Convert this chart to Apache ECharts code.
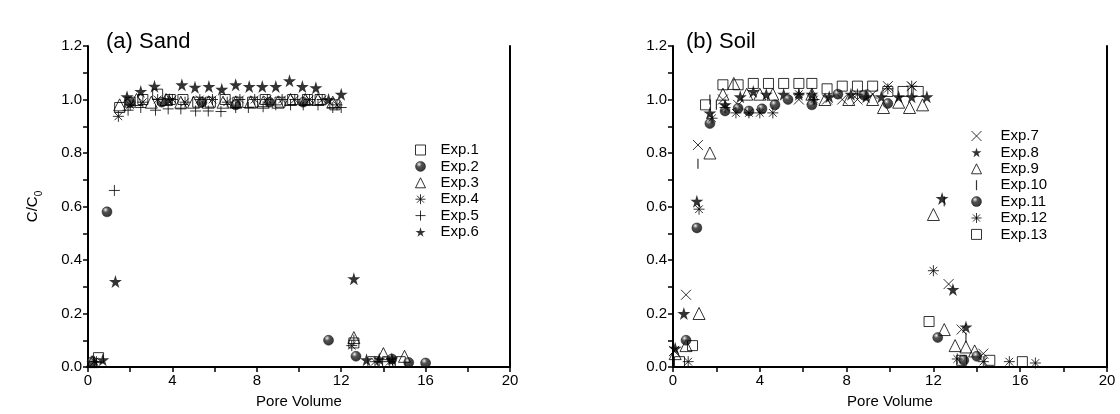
<!DOCTYPE html>
<html>
<head>
<meta charset="utf-8">
<script src="https://cdn.jsdelivr.net/npm/echarts@6/dist/echarts.min.js"></script>
<style>
  html, body { margin: 0; padding: 0; background: #fff; }
  #chart { width: 1120px; height: 414px; }
</style>
</head>
<body>
<div id="chart"></div>
<script>
// pore volume / C/C0 pairs
const exp1 = [[0.5,0.035],[1.5,0.97],[2.0,0.99],[2.6,1.0],[3.3,1.02],[3.9,1.0],[4.5,1.0],[5.2,0.99],[5.8,0.99],[6.5,1.0],[7.1,0.99],[7.8,0.99],[8.4,1.0],[9.1,0.99],[9.7,1.0],[10.4,1.0],[11.0,1.0],[11.7,0.98],[12.6,0.09],[13.5,0.02],[14.2,0.02],[14.8,0.02]];
const exp2 = [[0.2,0.02],[0.9,0.58],[2.0,0.99],[3.5,0.99],[5.4,0.99],[7.0,0.98],[8.6,0.99],[10.2,0.99],[11.4,0.10],[12.7,0.04],[14.4,0.03],[15.2,0.017],[16.0,0.015]];
const exp3 = [[0.2,0.02],[1.5,0.98],[2.3,1.0],[3.0,0.99],[3.7,1.0],[4.4,0.99],[5.0,0.99],[5.7,0.99],[6.4,0.99],[7.0,0.99],[7.7,0.99],[8.3,0.99],[9.0,0.99],[9.6,1.0],[10.3,1.0],[10.9,1.0],[11.6,0.99],[12.6,0.11],[14.0,0.05],[15.0,0.04]];
const exp4 = [[0.3,0.02],[1.44,0.937],[2.0,0.98],[2.6,0.99],[3.3,1.0],[4.0,1.0],[4.6,0.99],[5.3,1.0],[5.9,1.0],[6.6,0.99],[7.2,1.0],[7.9,1.0],[8.5,1.0],[9.2,1.0],[9.8,1.0],[10.5,1.0],[11.1,1.0],[11.8,0.98],[12.5,0.08],[13.6,0.02],[14.3,0.02]];
const exp5 = [[0.4,0.02],[1.25,0.66],[1.9,0.96],[2.5,0.97],[3.2,0.96],[3.8,0.965],[4.4,0.965],[5.1,0.957],[5.7,0.957],[6.3,0.955],[7.0,0.97],[7.6,0.97],[8.3,0.973],[8.9,0.98],[9.6,0.98],[10.2,0.98],[10.9,0.98],[11.6,0.97],[12.0,0.97],[12.6,0.10],[13.8,0.02]];
const exp6 = [[0.7,0.027],[1.3,0.32],[1.85,1.01],[2.5,1.03],[3.15,1.05],[3.85,1.0],[4.45,1.055],[5.07,1.046],[5.73,1.049],[6.34,1.038],[7.0,1.055],[7.64,1.049],[8.26,1.049],[8.9,1.049],[9.55,1.07],[10.16,1.049],[10.8,1.044],[11.4,1.0],[12.0,1.02],[12.6,0.33],[13.2,0.027],[13.8,0.03],[14.4,0.03]];

const exp7 = [[0.05,0.06],[0.6,0.27],[1.15,0.83],[2.3,1.0],[3.0,0.98],[5.8,1.0],[6.4,1.0],[7.1,1.0],[7.8,1.0],[8.5,1.0],[9.2,1.02],[9.9,1.05],[11.0,1.05],[12.7,0.31],[13.3,0.14],[14.3,0.05]];
const exp8 = [[0.1,0.07],[0.5,0.2],[1.1,0.62],[1.7,0.95],[2.4,0.98],[3.1,1.01],[3.7,1.03],[4.3,1.02],[5.1,1.02],[5.8,1.02],[6.4,1.02],[7.2,1.01],[8.2,1.02],[8.9,1.01],[9.6,1.01],[10.4,1.01],[11.0,1.01],[11.7,1.01],[12.4,0.63],[12.9,0.29],[13.5,0.15]];
const exp9 = [[0.1,0.05],[0.6,0.08],[1.2,0.20],[1.7,0.80],[2.3,1.02],[2.8,1.06],[3.4,1.02],[4.0,1.02],[4.6,1.02],[6.4,1.02],[7.0,1.0],[8.1,1.0],[9.2,1.0],[9.7,0.97],[10.4,0.99],[10.9,0.97],[11.5,0.98],[12.0,0.57],[12.5,0.14],[13.0,0.08],[13.5,0.075],[13.9,0.06]];
const exp10 = [[1.15,0.76],[1.7,1.0],[2.0,0.98],[6.5,1.0],[8.9,1.02],[12.5,0.62],[13.5,0.11]];
const exp11 = [[0.6,0.10],[1.1,0.52],[1.7,0.91],[2.4,0.957],[3.0,0.967],[3.5,0.957],[4.1,0.965],[4.7,0.98],[5.3,1.0],[6.4,0.98],[7.6,1.02],[8.8,1.016],[9.9,0.985],[12.2,0.11],[13.4,0.025],[14.0,0.04]];
const exp12 = [[0.7,0.02],[1.2,0.59],[1.8,0.93],[2.4,0.97],[2.9,0.95],[3.5,0.95],[4.0,0.95],[4.6,0.95],[5.8,1.02],[6.5,1.0],[8.5,1.02],[9.9,1.04],[11.0,1.05],[12.0,0.36],[13.1,0.03],[14.3,0.02],[15.5,0.02],[16.7,0.015]];
const exp13 = [[0.3,0.02],[0.9,0.08],[1.5,0.98],[2.3,1.055],[3.0,1.055],[3.7,1.06],[4.4,1.06],[5.1,1.06],[5.8,1.06],[6.4,1.06],[7.1,1.04],[7.8,1.05],[8.5,1.05],[9.2,1.05],[9.9,1.03],[10.6,1.03],[11.3,1.03],[11.8,0.17],[13.3,0.025],[14.6,0.025],[16.1,0.02]];

const sandNames = ['Exp.1','Exp.2','Exp.3','Exp.4','Exp.5','Exp.6'];
const soilNames = ['Exp.7','Exp.8','Exp.9','Exp.10','Exp.11','Exp.12','Exp.13'];
const xTicks = [0, 4, 8, 12, 16, 20];
const yTicks = [0, 0.2, 0.4, 0.6, 0.8, 1.0, 1.2];

const FONT = 'Liberation Sans, Arial, sans-serif';

// marker shapes
const mk = {
  square: { symbol: 'rect', size: 10, open: true },
  ball: { symbol: 'circle', size: 10, ball: true },
  tri: { symbol: 'triangle', size: 12, open: true },
  aster: { symbol: 'path://M5,0L5,10M0,5L10,5M1.5,1.5L8.5,8.5M8.5,1.5L1.5,8.5', size: 11, line: true },
  plus: { symbol: 'path://M5,0L5,10M0,5L10,5', size: 11, line: true },
  star: { symbol: 'path://M50,0L61,35L98,35L68,57L79,91L50,70L21,91L32,57L2,35L39,35Z', size: 13, fill: true },
  cross: { symbol: 'path://M0,0L10,10M10,0L0,10', size: 10, line: true },
  bar: { symbol: 'path://M0,0M10,10M4.4,0L5.6,0L5.6,10L4.4,10Z', size: 10, fill: true }
};

// shaded sphere: black with a small highlight upper-left
const ballColor = new echarts.graphic.RadialGradient(0.36, 0.3, 0.75, [
  { offset: 0, color: '#ffffff' },
  { offset: 0.1, color: '#b0b0b0' },
  { offset: 0.35, color: '#262626' },
  { offset: 1, color: '#000000' }
]);

function styleOf(m) {
  if (m.ball) return { color: ballColor, borderColor: '#000', borderWidth: 0.5 };
  if (m.fill) return { color: '#000', borderWidth: 0 };
  return { color: 'rgba(0,0,0,0)', borderColor: '#000', borderWidth: 1 };
}

function scat(name, data, m, idx) {
  return {
    name: name,
    type: 'scatter',
    xAxisIndex: idx,
    yAxisIndex: idx * 2,
    data: data,
    symbol: m.symbol,
    symbolSize: m.size,
    itemStyle: styleOf(m),
    emphasis: { disabled: true },
    z: 3
  };
}

function xAx(idx) {
  return {
    type: 'value', gridIndex: idx, min: 0, max: 20, interval: 4,
    name: 'Pore Volume', nameLocation: 'middle', nameGap: 27,
    nameTextStyle: { fontFamily: FONT, fontSize: 15, color: '#000' },
    axisLine: { lineStyle: { color: '#000', width: 2 } },
    axisTick: { show: true, length: 5, lineStyle: { color: '#000', width: 1.5 } },
    minorTick: { show: true, splitNumber: 2, length: 5, lineStyle: { color: '#000', width: 1.5 } },
    axisLabel: { fontFamily: FONT, fontSize: 15, color: '#000', margin: 6,
      formatter: v => xTicks.indexOf(v) >= 0 ? String(v) : '' },
    splitLine: { show: false }
  };
}

function yAx(idx, withName) {
  return {
    type: 'value', gridIndex: idx, min: 0, max: 1.2, interval: 0.2,
    name: withName ? '{a|C/C}{b|0}' : '',
    nameLocation: 'middle', nameGap: 44, nameRotate: 90,
    nameTextStyle: { fontFamily: FONT, color: '#000',
      rich: {
        a: { fontFamily: FONT, fontSize: 15, color: '#000', lineHeight: 22, verticalAlign: 'middle' },
        b: { fontFamily: FONT, fontSize: 10, color: '#000', lineHeight: 22, verticalAlign: 'bottom' }
      } },
    axisLine: { show: true, lineStyle: { color: '#000', width: 2 } },
    axisTick: { show: true, length: 5, lineStyle: { color: '#000', width: 1.5 } },
    minorTick: { show: true, splitNumber: 2, length: 5, lineStyle: { color: '#000', width: 1.5 } },
    axisLabel: { fontFamily: FONT, fontSize: 15, color: '#000', margin: 6,
      formatter: v => yTicks.some(t => Math.abs(t - v) < 1e-6) ? v.toFixed(1) : '' },
    splitLine: { show: false }
  };
}

function rightBorder(idx) {
  return {
    type: 'value', gridIndex: idx, min: 0, max: 1.2, position: 'right',
    axisLine: { show: true, onZero: false, lineStyle: { color: '#000', width: 2 } },
    axisTick: { show: false }, axisLabel: { show: false }, splitLine: { show: false }
  };
}

const sandMarks = [mk.square, mk.ball, mk.tri, mk.aster, mk.plus, mk.star];
const sandData = [exp1, exp2, exp3, exp4, exp5, exp6];
const soilMarks = [mk.cross, mk.star, mk.tri, mk.bar, mk.ball, mk.aster, mk.square];
const soilData = [exp7, exp8, exp9, exp10, exp11, exp12, exp13];

const series = [];
sandNames.forEach((n, i) => series.push(scat(n, sandData[i], sandMarks[i], 0)));
soilNames.forEach((n, i) => series.push(scat(n, soilData[i], soilMarks[i], 1)));

function legend(names, marks, left, top, textGap) {
  return {
    data: names.map((n, i) => ({
      name: n,
      icon: marks[i].symbol,
      itemStyle: Object.assign({}, styleOf(marks[i]))
    })),
    orient: 'vertical', left: left, top: top, padding: 0,
    itemWidth: 10, itemHeight: 10, itemGap: 0.4,
    selectedMode: false,
    itemStyle: { borderWidth: 1 },
    textStyle: { fontFamily: FONT, fontSize: 15, color: '#000', lineHeight: 16, padding: [0, 0, 0, textGap] }
  };
}

const chart = echarts.init(document.getElementById('chart'), null, { renderer: 'canvas' });
chart.setOption({
  animation: false,
  backgroundColor: '#fff',
  grid: [
    { left: 88, right: 610, top: 46, bottom: 36 },
    { left: 673, right: 13, top: 46, bottom: 36 }
  ],
  xAxis: [xAx(0), xAx(1)],
  yAxis: [yAx(0, true), rightBorder(0), yAx(1, false), rightBorder(1)],
  legend: [legend(sandNames, sandMarks, 415, 142, 10), legend(soilNames, soilMarks, 971, 128, 14)],
  graphic: [
    { type: 'text', left: 106, top: 31, style: { text: '(a) Sand', font: '22px ' + FONT, fill: '#000' } },
    { type: 'text', left: 686, top: 31, style: { text: '(b) Soil', font: '22px ' + FONT, fill: '#000' } }
  ],
  series: series
});
</script>
</body>
</html>
